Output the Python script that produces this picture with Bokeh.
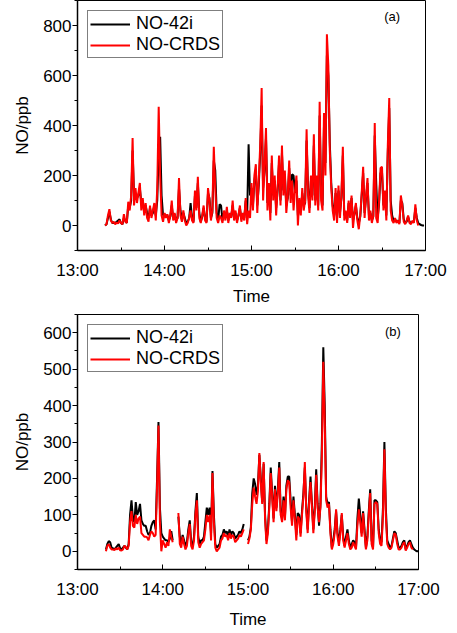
from bokeh.plotting import figure
from bokeh.layouts import column
from bokeh.models import FixedTicker, Legend, LegendItem, Label, Range1d
from bokeh.embed import file_html
from bokeh.resources import INLINE

nan = float("nan")

# x values: minutes after 13:00
time_a = list(range(19, 240))
time_b = list(range(20, 241))

tick_pos = [0, 60, 120, 180, 240]
tick_labels = ["13:00", "14:00", "15:00", "16:00", "17:00"]
minor_pos = [30, 90, 150, 210]

# panel (a)
no42i_a = [
    0, 5, 30, 55, 25, 10, 10, 10, 15, 20,
    25, 10, 5, 30, 20, 10, 80, 70, 100, 300,
    120, 130, 110, 120, 150, 90, 100, 60, 80, 50,
    30, 70, 40, 50, 80, 40, 100, 300, 355, 120,
    40, 45, 40, 40, 20, 35, 80, 30, 45, 20,
    30, 150, 60, 25, 50, 30, 10, 15, 30, 90,
    30, 15, 120, 70, 170, 50, 15, 35, 70, 30,
    15, 130, 110, 30, 50, 260, 220, 50, 20, 85,
    80, 20, 50, 30, 60, 20, 45, 35, 80, 30,
    50, 20, 40, 70, 25, 45, 30, 100, 40, 325,
    120, 150, 80, 180, 220, 80, 160, 290, 480, 150,
    220, 350, 90, 150, 50, 250, 120, 180, 70, 140,
    250, 100, 290, 140, 200, 80, 110, 230, 120, 205,
    200, 130, 180, 40, 100, 60, 130, 80, 90, 340,
    150, 70, 180, 120, 320, 100, 180, 80, 440, 130,
    80, 400, 250, 680, 600, 330, 170, 80, 40, 130,
    30, 140, 50, 110, 280, 40, 50, 20, 90, 40,
    110, 20, 45, 80, 30, 10, 35, 120, 210, 50,
    110, 170, 40, 50, 20, 35, 360, 170, 30, 90,
    210, 215, 80, 130, 40, 290, 470, 100, 40, 20,
    25, 15, 20, 10, 100, 90, 25, 10, 15, 35,
    15, 10, 15, 15, 70, 30, 10, 5, 2, 0,
    0,
]
nocrds_a = [
    0, 5, 40, 65, 20, 10, 15, 5, 12, 8,
    20, 10, 5, 45, 15, 10, 95, 60, 120, 350,
    80, 150, 90, 130, 170, 60, 110, 40, 90, 30,
    15, 80, 30, 60, 90, 20, 150, 475, 200, 40,
    15, 50, 30, 45, 10, 40, 100, 20, 50, 10,
    30, 190, 40, 15, 60, 20, 0, 10, 30, 60,
    20, 10, 140, 60, 195, 30, 10, 40, 80, 20,
    10, 150, 100, 20, 60, 315, 150, 30, 10, 40,
    30, 10, 60, 20, 75, 10, 50, 30, 100, 20,
    60, 10, 40, 80, 15, 50, 20, 110, 5, 60,
    30, 170, 60, 200, 245, 50, 180, 320, 550, 100,
    240, 390, 60, 170, 20, 280, 100, 200, 40, 150,
    280, 80, 320, 120, 220, 50, 120, 260, 90, 180,
    60, 140, 200, 0, 110, 40, 150, 60, 100, 385,
    120, 50, 200, 100, 365, 80, 200, 60, 495, 100,
    60, 450, 200, 765, 640, 300, 150, 60, 20, 150,
    10, 160, 30, 120, 315, 20, 60, 10, 100, 30,
    120, -10, 50, 90, 20, -15, 40, 130, 235, 30,
    120, 190, 20, 60, 10, 40, 410, 30, 10, 100,
    230, 235, 60, 140, 20, 320, 510, 60, 20, 10,
    30, 10, 20, 5, 120, 80, 15, 5, 20, 40,
    10, 5, 20, 10, 85, 20, 0, nan, nan, nan,
    nan,
]

# panel (b)
no42i_b = [
    5, 20, 28, 25, 10, 8, 5, 10, 15, 20,
    8, 5, 10, 15, 10, 5, 20, 100, 140, 90,
    80, 135, 100, 110, 130, 85, 75, 70, 70, 55,
    45, 50, 70, 80, 85, 60, 200, 355, 120, 50,
    40, 35, 30, 30, 25, 35, 55, 30, nan, nan,
    nan, 95, 40, 20, 45, 30, 15, 25, 60, 85,
    25, 15, 40, 110, 160, 40, 20, 30, 30, 40,
    80, 120, 100, 120, 50, 220, 100, 20, 10, 15,
    20, 40, 45, 60, 50, 55, 40, 60, 45, 55,
    50, 35, 40, 45, 55, 50, 60, 75, nan, nan,
    30, 40, 65, 160, 200, 185, 155, 180, 265, 200,
    135, 240, 100, 30, 60, 130, 230, 160, 90, 180,
    120, 170, 245, 110, 90, 150, 95, 180, 205, 205,
    140, 80, 150, 100, 45, 105, 100, 50, 110, 160,
    230, 120, 60, 140, 205, 130, 60, 120, 225, 130,
    70, 130, 300, 560, 400, 150, 130, 135, 60, 10,
    30, 60, 110, 50, 25, 60, 100, 40, 15, 40,
    60, 30, 10, 20, 30, 25, 10, 90, 145, 100,
    50, 110, 60, 10, 40, 110, 170, 30, 10, 140,
    140, 135, 60, 30, 25, 120, 300, 120, 30, 20,
    10, 15, 35, 55, 50, 30, 10, 10, 15, 25,
    30, 5, 15, 25, 30, 20, 10, 5, 2, 0,
    0,
]
nocrds_b = [
    0, 15, 20, 10, 5, 5, 3, 8, 5, 10,
    3, 2, 5, 15, 12, 5, 15, 80, 110, 70,
    65, 100, 75, 90, 95, 50, 45, 40, 40, 38,
    30, 45, 55, 50, 40, 45, 180, 345, 80, 0,
    30, 20, 10, 25, 15, 60, 40, 25, nan, nan,
    nan, 105, 20, 10, 40, 20, 5, 15, 50, 75,
    15, 5, 30, 100, 140, 25, 10, 20, 25, 30,
    60, 100, 80, 100, 30, 215, 80, 10, 0, 5,
    10, 30, 35, 50, 40, 45, 30, 50, 35, 45,
    40, 25, 30, 35, 45, 40, 50, 60, nan, nan,
    20, 35, 60, 130, 175, 150, 130, 165, 270, 190,
    130, 245, 90, 20, 50, 120, 215, 150, 80, 170,
    110, 160, 230, 100, 80, 140, 85, 170, 195, 190,
    120, 70, 140, 90, 30, 95, 90, 40, 100, 150,
    245, 110, 50, 130, 190, 120, 50, 110, 210, 120,
    80, 120, 260, 520, 360, 140, 120, 130, 50, 5,
    20, 50, 115, 40, 15, 50, 105, 30, 10, 30,
    50, 20, 5, 10, 25, 15, 5, 70, 115, 80,
    40, 105, 50, 5, 30, 100, 160, 20, 5, 130,
    135, 130, 50, 20, 15, 100, 280, 100, 20, 10,
    5, 10, 30, 50, 45, 20, 5, 5, 10, 20,
    25, 2, 10, 20, 25, 10, 5, nan, nan, nan,
    nan,
]

series_names = ["NO-42i", "NO-CRDS"]
y_label = "NO/ppb"
x_label = "Time"

FONT = "Liberation Sans"


def make_panel(t, black, red, y_start, y_end, yticks, yminor, tag, tag_x, tag_y,
               fw, fh, mbl, mbr, mbt, mbb, x_label_standoff):
    p = figure(frame_width=fw, frame_height=fh,
               x_range=Range1d(0, 240), y_range=Range1d(y_start, y_end),
               output_backend="svg", toolbar_location=None,
               min_border_left=mbl, min_border_right=mbr,
               min_border_top=mbt, min_border_bottom=mbb)
    p.xgrid.visible = False
    p.ygrid.visible = False
    p.outline_line_color = "black"
    p.outline_line_width = 1
    p.background_fill_color = "white"
    p.border_fill_color = "white"

    rb = p.line(t, black, line_color="black", line_width=2)
    rr = p.line(t, red, line_color="#ff0000", line_width=2)

    xa = p.xaxis[0]
    xa.ticker = FixedTicker(ticks=tick_pos, minor_ticks=minor_pos)
    xa.major_label_overrides = {pos: lab for pos, lab in zip(tick_pos, tick_labels)}
    xa.major_tick_in = 5
    xa.major_tick_out = 0
    xa.minor_tick_in = 3
    xa.minor_tick_out = 0
    xa.axis_label = x_label

    ya = p.yaxis[0]
    ya.ticker = FixedTicker(ticks=yticks, minor_ticks=yminor)
    ya.major_tick_in = 0
    ya.major_tick_out = 5
    ya.minor_tick_in = 0
    ya.minor_tick_out = 3
    ya.axis_label = y_label

    for ax in (xa, ya):
        ax.axis_line_color = "black"
        ax.axis_line_width = 1.5
        ax.major_tick_line_color = "black"
        ax.minor_tick_line_color = "black"
        ax.major_label_text_font = FONT
        ax.major_label_text_font_size = "17px"
        ax.major_label_text_color = "black"
        ax.axis_label_text_font = FONT
        ax.axis_label_text_font_size = "17px"
        ax.axis_label_text_font_style = "normal"
        ax.axis_label_text_color = "black"
    xa.major_label_standoff = 10
    xa.axis_label_standoff = x_label_standoff
    ya.major_label_standoff = 1
    ya.axis_label_standoff = 8

    legend = Legend(items=[LegendItem(label=series_names[0], renderers=[rb]),
                           LegendItem(label=series_names[1], renderers=[rr])],
                    location="top_left", margin=10, padding=2, spacing=0,
                    glyph_width=40, glyph_height=20, label_standoff=6,
                    label_text_font=FONT, label_text_font_size="18px",
                    label_text_color="black",
                    border_line_color="black", border_line_width=1,
                    background_fill_color="white", background_fill_alpha=1)
    p.add_layout(legend)

    p.add_layout(Label(x=tag_x, y=tag_y, text=tag, text_font=FONT,
                       text_font_size="13px", text_color="black",
                       text_align="center", text_baseline="middle"))
    return p


pa = make_panel(time_a, no42i_a, nocrds_a, -100, 900,
                [0, 200, 400, 600, 800], [-100, 100, 300, 500, 700, 900],
                "(a)", 217, 836,
                fw=348, fh=250, mbl=77, mbr=22, mbt=0, mbb=58, x_label_standoff=4)
pb = make_panel(time_b, no42i_b, nocrds_b, -50, 650,
                [0, 100, 200, 300, 400, 500, 600],
                [-50, 50, 150, 250, 350, 450, 550, 650],
                "(b)", 222, 603,
                fw=341, fh=255, mbl=74, mbr=26, mbt=6, mbb=48, x_label_standoff=8)

layout = column(pa, pb, spacing=0)
open("out.html", "w").write(file_html(layout, INLINE))
